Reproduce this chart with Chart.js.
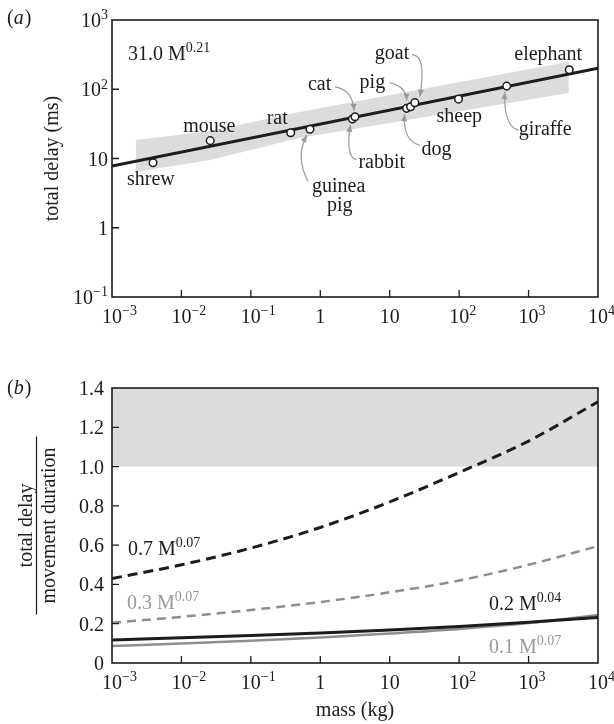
<!DOCTYPE html>
<html>
<head>
<meta charset="utf-8">
<script src="https://cdn.jsdelivr.net/npm/chart.js@4.4.1/dist/chart.umd.min.js"></script>
<style>
  html, body { margin: 0; padding: 0; background: #fff; }
  #wrap { position: relative; width: 614px; height: 724px; }
  canvas { position: absolute; left: 0; }
</style>
</head>
<body>
<div id="wrap">
  <canvas id="top" width="614" height="340" style="top:0"></canvas>
  <canvas id="bottom" width="614" height="384" style="top:340px"></canvas>
</div>
<script>
// panel (a): total delay vs body mass
const animals = ["shrew", "mouse", "rat", "guinea pig", "rabbit", "cat", "dog", "pig", "goat", "sheep", "giraffe", "elephant"];
const animalMass = [0.0039, 0.026, 0.375, 0.71, 2.9, 3.16, 17.5, 20, 23, 98, 484, 3860];
const animalDelay = [8.7, 18.1, 23.6, 26.4, 37.2, 40, 53, 56, 64, 72, 111, 191];

const fitMass = [0.001, 10000];
const fitDelay = [7.8, 202];

const bandMass = [0.0022, 0.026, 0.5, 3800];
const bandHigh = [18.5, 25, 47, 250];
const bandLow = [6.4, 9.5, 19.8, 88];

// panel (b): delay / movement duration
const curveMass = [0.001, 0.01, 0.1, 1, 10, 100, 1000, 10000];
const ratio07 = [0.43, 0.50, 0.585, 0.69, 0.82, 0.97, 1.13, 1.33];
const ratio03 = [0.205, 0.235, 0.27, 0.31, 0.36, 0.42, 0.50, 0.595];
const ratio02 = [0.117, 0.128, 0.14, 0.153, 0.168, 0.186, 0.207, 0.232];
const ratio01 = [0.087, 0.099, 0.113, 0.13, 0.15, 0.173, 0.203, 0.244];
const shadeMass = [0.001, 10000];
const shadeTop = [1.4, 1.4];
const shadeFrom = 1.0;

// ticks
const massTicks = [0.001, 0.01, 0.1, 1, 10, 100, 1000, 10000];
const massTickLabels = [["10", "\u22123"], ["10", "\u22122"], ["10", "\u22121"], ["1", ""], ["10", ""], ["10", "2"], ["10", "3"], ["10", "4"]];
const delayTicks = [0.1, 1, 10, 100, 1000];
const delayTickLabels = [["10", "\u22121"], ["1", ""], ["10", ""], ["10", "2"], ["10", "3"]];
const ratioTicks = [0, 0.2, 0.4, 0.6, 0.8, 1.0, 1.2, 1.4];
const ratioTickLabels = ["0", "0.2", "0.4", "0.6", "0.8", "1.0", "1.2", "1.4"];

// label placement, pixel offsets from each point: [textX, baselineY]
const labelOffsets = {
  "shrew": [-26, 22], "mouse": [-27, -9], "rat": [-24, -9],
  "cat": [-47, -27], "pig": [-51, -19], "goat": [-40, -44],
  "elephant": [-55, -10], "sheep": [-22, 23], "giraffe": [12, 49],
  "dog": [15, 47], "rabbit": [6, 49]
};
// arrows: start, control, end offsets from the point
const arrowOffsets = {
  "cat": [[-20, -30], [-2, -27], [-1, -6]],
  "pig": [[-21, -24], [-4, -20], [-4, -6]],
  "goat": [[-3, -48], [12, -48], [5, -6]],
  "dog": [[13, 37], [-4, 32], [-2, 6]],
  "rabbit": [[4, 41], [-7, 38], [-2, 6]],
  "guinea pig": [[-2, 52], [-15, 27], [-3, 6]],
  "giraffe": [[12, 44], [-3, 41], [-2, 6]]
};

const FONT = '"Liberation Serif", "Times New Roman", serif';
const GRAY = "#999999";
const INK = "#1c1c1c";

function supText(ctx, base, sup, x, y, align, size, color) {
  const supSize = Math.round(size * 0.68);
  ctx.fillStyle = color;
  ctx.textBaseline = "alphabetic";
  ctx.textAlign = "left";
  ctx.font = size + "px " + FONT;
  const wb = ctx.measureText(base).width;
  ctx.font = supSize + "px " + FONT;
  const ws = sup ? ctx.measureText(sup).width : 0;
  let x0 = x;
  if (align === "right") x0 = x - wb - ws;
  if (align === "base") x0 = x - wb / 2;
  ctx.font = size + "px " + FONT;
  ctx.fillText(base, x0, y);
  if (sup) {
    ctx.font = supSize + "px " + FONT;
    ctx.fillText(sup, x0 + wb, y - size * 0.38);
  }
}

function arrow(ctx, s, c, e) {
  ctx.save();
  ctx.strokeStyle = GRAY;
  ctx.fillStyle = GRAY;
  ctx.lineWidth = 1.2;
  ctx.beginPath();
  ctx.moveTo(s[0], s[1]);
  ctx.quadraticCurveTo(c[0], c[1], e[0], e[1]);
  ctx.stroke();
  const a = Math.atan2(e[1] - c[1], e[0] - c[0]);
  ctx.beginPath();
  ctx.moveTo(e[0], e[1]);
  ctx.lineTo(e[0] - 7 * Math.cos(a) + 3 * Math.sin(a), e[1] - 7 * Math.sin(a) - 3 * Math.cos(a));
  ctx.lineTo(e[0] - 7 * Math.cos(a) - 3 * Math.sin(a), e[1] - 7 * Math.sin(a) + 3 * Math.cos(a));
  ctx.closePath();
  ctx.fill();
  ctx.restore();
}

function frameAndTicks(chart, yTicks) {
  const ctx = chart.ctx, a = chart.chartArea;
  const xs = chart.scales.x, ys = chart.scales.y;
  ctx.save();
  ctx.strokeStyle = INK;
  ctx.lineWidth = 1.6;
  ctx.strokeRect(a.left, a.top, a.right - a.left, a.bottom - a.top);
  ctx.lineWidth = 1.3;
  ctx.beginPath();
  massTicks.slice(1, -1).forEach(v => {
    const px = xs.getPixelForValue(v);
    ctx.moveTo(px, a.bottom);
    ctx.lineTo(px, a.bottom - 7);
  });
  yTicks.slice(1, -1).forEach(v => {
    const py = ys.getPixelForValue(v);
    ctx.moveTo(a.left, py);
    ctx.lineTo(a.left + 7, py);
  });
  ctx.stroke();
  // x tick labels
  massTicks.forEach((v, i) => {
    const px = xs.getPixelForValue(v);
    supText(ctx, massTickLabels[i][0], massTickLabels[i][1], px, a.bottom + 26, "base", 20, INK);
  });
  ctx.restore();
}

function panelTag(ctx, letter, x, y) {
  ctx.save();
  ctx.fillStyle = INK;
  ctx.textBaseline = "alphabetic";
  ctx.textAlign = "left";
  ctx.font = "20px " + FONT;
  ctx.fillText("(", x, y);
  let w = ctx.measureText("(").width;
  ctx.font = "italic 20px " + FONT;
  ctx.fillText(letter, x + w, y);
  w += ctx.measureText(letter).width + 1;
  ctx.font = "20px " + FONT;
  ctx.fillText(")", x + w, y);
  ctx.restore();
}

const topDecor = {
  id: "topDecor",
  afterDraw(chart) {
    const ctx = chart.ctx;
    const xs = chart.scales.x, ys = chart.scales.y;
    frameAndTicks(chart, delayTicks);
    delayTicks.forEach((v, i) => {
      const py = ys.getPixelForValue(v);
      supText(ctx, delayTickLabels[i][0], delayTickLabels[i][1], 108, py + 7, "right", 20, INK);
    });
    // axis title
    ctx.save();
    ctx.translate(58, (chart.chartArea.top + chart.chartArea.bottom) / 2);
    ctx.rotate(-Math.PI / 2);
    ctx.font = "20px " + FONT;
    ctx.fillStyle = INK;
    ctx.textAlign = "center";
    ctx.textBaseline = "alphabetic";
    ctx.fillText("total delay (ms)", 0, 0);
    ctx.restore();
    panelTag(ctx, "a", 7, 24);
    supText(ctx, "31.0 M", "0.21", 128, 60, "left", 20, INK);
    // animal labels and arrows
    ctx.save();
    animals.forEach((name, i) => {
      const px = xs.getPixelForValue(animalMass[i]);
      const py = ys.getPixelForValue(animalDelay[i]);
      ctx.font = "20px " + FONT;
      ctx.fillStyle = INK;
      ctx.textAlign = "left";
      ctx.textBaseline = "alphabetic";
      if (name === "guinea pig") {
        ctx.fillText("guinea", px + 2, py + 63);
        ctx.fillText("pig", px + 17, py + 82);
      } else {
        const o = labelOffsets[name];
        ctx.fillText(name, px + o[0], py + o[1]);
      }
      const ar = arrowOffsets[name];
      if (ar) {
        arrow(ctx, [px + ar[0][0], py + ar[0][1]], [px + ar[1][0], py + ar[1][1]], [px + ar[2][0], py + ar[2][1]]);
      }
    });
    ctx.restore();
  }
};

const bottomDecor = {
  id: "bottomDecor",
  afterDraw(chart) {
    const ctx = chart.ctx;
    const ys = chart.scales.y, a = chart.chartArea;
    frameAndTicks(chart, ratioTicks);
    ctx.save();
    ctx.font = "20px " + FONT;
    ctx.fillStyle = INK;
    ctx.textAlign = "right";
    ctx.textBaseline = "alphabetic";
    ratioTicks.forEach((v, i) => {
      ctx.fillText(ratioTickLabels[i], 104, ys.getPixelForValue(v) + 7);
    });
    ctx.textAlign = "center";
    ctx.fillText("mass (kg)", (a.left + a.right) / 2, a.bottom + 53);
    // fraction-style y title
    const cy = (a.top + a.bottom) / 2;
    ctx.translate(0, cy);
    ctx.rotate(-Math.PI / 2);
    ctx.fillText("total delay", 0, 32);
    ctx.fillText("movement duration", 0, 55);
    ctx.strokeStyle = INK;
    ctx.lineWidth = 1.2;
    ctx.beginPath();
    ctx.moveTo(-89, 36.5);
    ctx.lineTo(89, 36.5);
    ctx.stroke();
    ctx.restore();
    panelTag(ctx, "b", 7, 54);
    supText(ctx, "0.7 M", "0.07", 128, 555 - 340, "left", 20, INK);
    supText(ctx, "0.3 M", "0.07", 127, 609 - 340, "left", 20, GRAY);
    supText(ctx, "0.2 M", "0.04", 489, 610 - 340, "left", 20, INK);
    supText(ctx, "0.1 M", "0.07", 489, 653 - 340, "left", 20, GRAY);
  }
};

function pts(xs, ys) {
  return xs.map((x, i) => ({ x: x, y: ys[i] }));
}

function logX() {
  return {
    type: "logarithmic", min: 0.001, max: 10000,
    ticks: { display: false }, grid: { display: false }, border: { display: false },
    afterFit(s) { s.height = 0; }
  };
}

Chart.defaults.font.family = FONT;

new Chart(document.getElementById("top"), {
  type: "scatter",
  data: {
    datasets: [
      { data: pts(bandMass, bandHigh), showLine: true, fill: "+1", backgroundColor: "#dcdcde", borderWidth: 0, pointRadius: 0, order: 3 },
      { data: pts(bandMass, bandLow), showLine: true, fill: false, borderWidth: 0, pointRadius: 0, order: 4 },
      { data: pts(fitMass, fitDelay), showLine: true, borderColor: INK, borderWidth: 3, pointRadius: 0, order: 2 },
      { data: pts(animalMass, animalDelay), pointRadius: 3.8, pointBackgroundColor: "#fff", pointBorderColor: INK, pointBorderWidth: 1.5, order: 1 }
    ]
  },
  options: {
    responsive: false, animation: false, devicePixelRatio: 1,
    layout: { padding: { left: 112, right: 16, top: 20, bottom: 43 } },
    plugins: { legend: { display: false }, tooltip: { enabled: false }, filler: { drawTime: "beforeDatasetsDraw" } },
    scales: {
      x: logX(),
      y: {
        type: "logarithmic", min: 0.1, max: 1000,
        ticks: { display: false }, grid: { display: false }, border: { display: false },
        afterFit(s) { s.width = 0; }
      }
    }
  },
  plugins: [topDecor]
});

new Chart(document.getElementById("bottom"), {
  type: "scatter",
  data: {
    datasets: [
      { data: pts(shadeMass, shadeTop), showLine: true, fill: { value: shadeFrom }, backgroundColor: "#dcdcde", borderWidth: 0, pointRadius: 0, order: 5 },
      { data: pts(curveMass, ratio01), showLine: true, borderColor: "#8e8e8e", borderWidth: 2.5, pointRadius: 0, cubicInterpolationMode: "monotone", order: 4 },
      { data: pts(curveMass, ratio02), showLine: true, borderColor: INK, borderWidth: 3, pointRadius: 0, cubicInterpolationMode: "monotone", order: 3 },
      { data: pts(curveMass, ratio03), showLine: true, borderColor: "#8e8e8e", borderWidth: 2.5, borderDash: [9, 6], pointRadius: 0, cubicInterpolationMode: "monotone", order: 2 },
      { data: pts(curveMass, ratio07), showLine: true, borderColor: INK, borderWidth: 3, borderDash: [10, 6], pointRadius: 0, cubicInterpolationMode: "monotone", order: 1 }
    ]
  },
  options: {
    responsive: false, animation: false, devicePixelRatio: 1,
    layout: { padding: { left: 112, right: 16, top: 48, bottom: 61 } },
    plugins: { legend: { display: false }, tooltip: { enabled: false }, filler: { drawTime: "beforeDatasetsDraw" } },
    scales: {
      x: logX(),
      y: {
        type: "linear", min: 0, max: 1.4,
        ticks: { display: false }, grid: { display: false }, border: { display: false },
        afterFit(s) { s.width = 0; }
      }
    }
  },
  plugins: [bottomDecor]
});
</script>
</body>
</html>
